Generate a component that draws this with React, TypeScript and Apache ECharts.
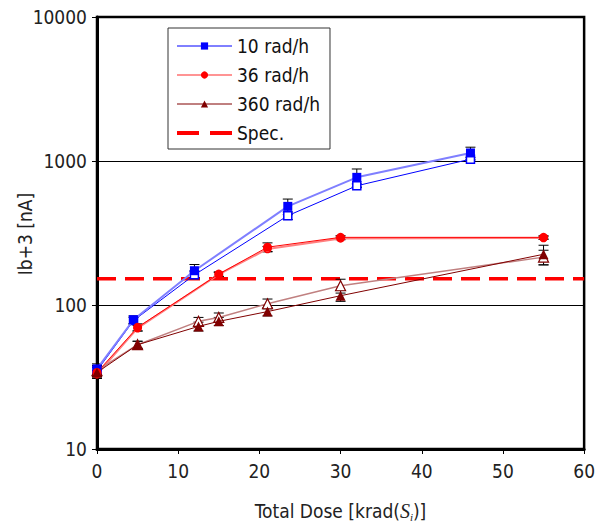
import React, { useEffect, useRef } from "react";
import * as echarts from "echarts";

// ---- data ----
const blueX = [0, 4.5, 12, 23.5, 32, 46];
const blueFilled = [36, 79, 173, 484, 770, 1137];
const blueFilledErr = [3, 5, 18, 60, 110, 110];
const blueOpen = [35, 78, 162, 417, 673, 1030];
const blueOpenErr = [3, 4, 10, 25, 20, 30];

const redX = [0, 5, 15, 21, 30, 55];
const redFilled = [34, 70, 164, 252, 295, 295];
const redFilledErr = [3, 4, 6, 18, 8, 8];
const redOpen = [33, 69, 163, 245, 290, 292];
const redOpenErr = [2, 3, 5, 10, 6, 6];

const darkX = [0, 5, 12.5, 15, 21, 30, 55];
const darkFilled = [34, 53, 71, 77, 90, 116, 225];
const darkFilledErr = [3, 3, 5, 5, 6, 10, 35];
const darkOpen = [35, 53, 77, 82, 102, 136, 215];
const darkOpenErr = [3, 3, 5, 6, 8, 15, 25];

const specX = [0, 60];
const specY = [152, 152];

const yAxisTitle = "Ib+3 [nA]";

const FONT = "'DejaVu Sans Condensed', 'Liberation Sans Narrow', 'Arial Narrow', sans-serif";

function pts(xs: number[], ys: number[]) {
  return xs.map((x, i) => [x, ys[i]]);
}
function errPts(xs: number[], ys: number[], es: number[]) {
  return xs.map((x, i) => [x, ys[i] - es[i], ys[i] + es[i]]);
}

function errSeries(data: number[][]) {
  return {
    type: "custom",
    silent: true,
    z: 3,
    data,
    renderItem: (params: any, api: any) => {
      const x = api.value(0);
      const lo = api.coord([x, api.value(1)]);
      const hi = api.coord([x, api.value(2)]);
      const w = 5;
      const st = { stroke: "#000", lineWidth: 1 };
      return {
        type: "group",
        children: [
          { type: "line", shape: { x1: lo[0], y1: lo[1], x2: hi[0], y2: hi[1] }, style: st },
          { type: "line", shape: { x1: lo[0] - w, y1: lo[1], x2: lo[0] + w, y2: lo[1] }, style: st },
          { type: "line", shape: { x1: hi[0] - w, y1: hi[1], x2: hi[0] + w, y2: hi[1] }, style: st },
        ],
      };
    },
  };
}

export default function App() {
  const ref = useRef<HTMLDivElement>(null);
  useEffect(() => {
    if (!ref.current) return;
    const chart = echarts.init(ref.current, undefined, { renderer: "svg" });
    chart.setOption({
      animation: false,
      backgroundColor: "#fff",
      textStyle: { fontFamily: FONT },
      grid: {
        left: 97,
        top: 17,
        width: 490,
        height: 434,
        show: true,
        borderColor: "#000",
        borderWidth: 2.5,
      },
      graphic: [
        {
          type: "text",
          x: 25,
          y: 234,
          rotation: Math.PI / 2,
          style: {
            text: yAxisTitle,
            fontSize: 19,
            fontFamily: FONT,
            fill: "#222",
            align: "center",
            verticalAlign: "middle",
          },
        },
      ],
      legend: {
        data: [
          { name: "10 rad/h", lineStyle: { color: "#0000ff", width: 1 } },
          { name: "36 rad/h", lineStyle: { color: "#ff7070", width: 1.5 } },
          { name: "360 rad/h", lineStyle: { color: "#800000", width: 1 } },
          {
            name: "Spec.",
            itemStyle: { opacity: 0 },
            lineStyle: { color: "#ff0000", width: 4, type: [22, 11] },
          },
        ],
        orient: "vertical",
        left: 168,
        top: 28,
        padding: [8, 10, 6, 7],
        itemGap: 9,
        itemWidth: 55,
        itemHeight: 9,
        borderColor: "#333",
        borderWidth: 1,
        backgroundColor: "#fff",
        textStyle: { fontSize: 19, color: "#111", fontFamily: FONT, lineHeight: 20 },
      },
      xAxis: {
        type: "value",
        min: 0,
        max: 60,
        interval: 10,
        name: "{a|Total Dose [krad(}{s|S}{i|i}{a|)]}",
        nameLocation: "middle",
        nameGap: 50,
        nameTextStyle: {
          rich: {
            a: { fontSize: 19, color: "#222", fontFamily: FONT },
            s: { fontSize: 20, color: "#222", fontFamily: "'Liberation Serif', serif", fontStyle: "italic" },
            i: { fontSize: 11, color: "#222", fontFamily: "'Liberation Serif', serif", fontStyle: "italic", padding: [12, 0, 0, 0] },
          },
        },
        axisLine: { lineStyle: { color: "#000", width: 3 } },
        axisTick: { show: true, length: 5, lineStyle: { color: "#000", width: 1 } },
        axisLabel: { fontSize: 19, color: "#222", margin: 12, fontFamily: FONT },
        splitLine: { show: false },
      },
      yAxis: {
        type: "log",
        logBase: 10,
        min: 10,
        max: 10000,
        axisLine: { lineStyle: { color: "#000", width: 3 } },
        axisTick: { show: true, length: 5, lineStyle: { color: "#000", width: 1 } },
        axisLabel: {
          fontSize: 19,
          color: "#222",
          margin: 10,
          fontFamily: FONT,
          formatter: (v: number) => String(Math.round(v)),
        },
        splitLine: { show: true, lineStyle: { color: "#000", width: 1 } },
        minorTick: { show: false },
      },
      series: [
        {
          name: "Spec.",
          type: "line",
          data: pts(specX, specY),
          symbol: "none",
          z: 2,
          lineStyle: { color: "#ff0000", width: 3.5, type: [19, 9] },
          itemStyle: { color: "#ff0000" },
        },
        errSeries(errPts(blueX, blueFilled, blueFilledErr)),
        errSeries(errPts(blueX, blueOpen, blueOpenErr)),
        errSeries(errPts(redX, redFilled, redFilledErr)),
        errSeries(errPts(redX, redOpen, redOpenErr)),
        errSeries(errPts(darkX, darkFilled, darkFilledErr)),
        errSeries(errPts(darkX, darkOpen, darkOpenErr)),
        {
          name: "10 rad/h b",
          type: "line",
          data: pts(blueX, blueOpen),
          symbol: "rect",
          symbolSize: 8,
          z: 4,
          lineStyle: { color: "#0000ff", width: 1 },
          itemStyle: { color: "#fff", borderColor: "#0000ff", borderWidth: 1.5 },
        },
        {
          name: "10 rad/h",
          type: "line",
          data: pts(blueX, blueFilled),
          symbol: "rect",
          symbolSize: 9,
          z: 5,
          lineStyle: { color: "#7f7fff", width: 2 },
          itemStyle: { color: "#0000ff" },
        },
        {
          name: "36 rad/h b",
          type: "line",
          data: pts(redX, redOpen),
          symbol: "circle",
          symbolSize: 7,
          z: 4,
          lineStyle: { color: "#ff8080", width: 2 },
          itemStyle: { color: "#fff", borderColor: "#ff0000", borderWidth: 1.5 },
        },
        {
          name: "36 rad/h",
          type: "line",
          data: pts(redX, redFilled),
          symbol: "circle",
          symbolSize: 9,
          z: 5,
          lineStyle: { color: "#ff0000", width: 1 },
          itemStyle: { color: "#ff0000" },
        },
        {
          name: "360 rad/h b",
          type: "line",
          data: pts(darkX, darkOpen),
          symbol: "triangle",
          symbolSize: 10,
          z: 4,
          lineStyle: { color: "#c08080", width: 1.5 },
          itemStyle: { color: "#fff", borderColor: "#800000", borderWidth: 1.2 },
        },
        {
          name: "360 rad/h",
          type: "line",
          data: pts(darkX, darkFilled),
          symbol: "triangle",
          symbolSize: 10,
          z: 5,
          lineStyle: { color: "#800000", width: 1 },
          itemStyle: { color: "#800000" },
        },
      ],
    });
    return () => chart.dispose();
  }, []);
  return (
    <div
      ref={ref}
      style={{ position: "absolute", left: 0, top: 0, width: 598, height: 527 }}
    />
  );
}
